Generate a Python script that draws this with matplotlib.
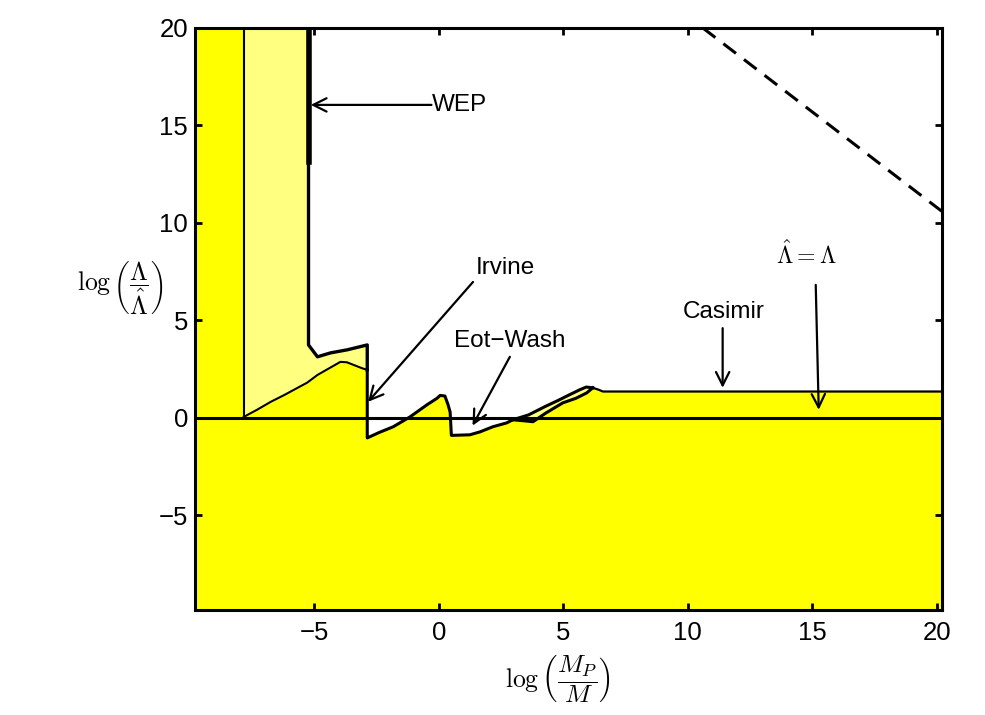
import numpy as np
import matplotlib
matplotlib.use("Agg")
import matplotlib.pyplot as plt

plt.rcParams['mathtext.fontset'] = 'cm'
plt.rcParams['font.family'] = ['Liberation Sans', 'DejaVu Sans']

# ---- data ----
x_ticks = [-5, 0, 5, 10, 15, 20]
y_ticks = [-5, 0, 5, 10, 15, 20]
x_lim = (-9.8, 20.2)
y_lim = (-9.85, 20.0)

# left excluded block
left_x = [-9.8, -7.84]
left_y = [20.0, 20.0]

# lower envelope (bright yellow below), in segments
lower_a_x = [-7.84, -7.3, -6.76, -6.2, -5.68, -5.3, -4.88, -4.4, -3.96, -3.7, -3.44, -3.1, -2.88]
lower_a_y = [0.05, 0.42, 0.82, 1.18, 1.54, 1.8, 2.2, 2.55, 2.87, 2.85, 2.72, 2.55, 2.46]
lower_b_x = [-2.88, -2.4, -1.84, -1.16, -0.48, -0.08, 0.05, 0.24, 0.36, 0.45, 0.5, 1.24, 1.65, 2.16, 2.72]
lower_b_y = [-1.03, -0.75, -0.46, 0.05, 0.67, 1.0, 1.15, 1.12, 0.7, 0.3, -0.9, -0.87, -0.72, -0.46, -0.26]
lower_c_x = [2.97, 3.4, 3.78, 4.3, 4.98, 5.5, 5.94, 6.18]
lower_c_y = [-0.1, -0.15, -0.2, 0.25, 0.77, 1.0, 1.28, 1.54]
lower_d_x = [6.4, 6.59, 20.2]
lower_d_y = [1.45, 1.35, 1.35]

# WEP upper bound
wep_x = [-7.84, -5.24, -5.24, -4.88, -4.36, -3.68, -3.04, -2.88, -2.88]
wep_y = [20.0, 20.0, 3.74, 3.13, 3.33, 3.49, 3.69, 3.74, 2.46]
wep_thick_y = [13.1, 20.0]

# sliver upper bound
sliver_x = [2.97, 3.6, 4.3, 4.8, 5.24, 5.66, 5.92, 6.18]
sliver_y = [-0.1, 0.15, 0.6, 0.9, 1.18, 1.44, 1.58, 1.54]

# dashed line (Lambda-hat = Lambda bound)
dash_x = [10.6, 20.2]
dash_y = [20.0, 10.6]

# annotations: label, text pos, arrow start, arrow tip
labels = ["WEP", "Irvine", "Eot\u2212Wash", "Casimir", r"$\hat{\Lambda}=\Lambda$"]
text_pos = [(-0.28, 16.05), (2.65, 7.69), (2.85, 3.95), (11.45, 5.44), (14.78, 8.36)]
arrow_from = [(-0.3, 16.05), (1.37, 6.97), (2.85, 3.13), (11.4, 4.6), (15.14, 6.82)]
arrow_to = [(-5.15, 16.05), (-2.85, 0.82), (1.35, -0.4), (11.4, 1.54), (15.26, 0.41)]

BRIGHT = '#FFFF00'
LIGHT = '#FFFF80'

fig = plt.figure(figsize=(9.85, 7.15), dpi=100)
ax = fig.add_axes([0.198, 0.147, 0.758, 0.814])

lower_x = np.concatenate([left_x, lower_a_x, lower_b_x, lower_c_x, lower_d_x])
lower_y = np.concatenate([left_y, lower_a_y, lower_b_y, lower_c_y, lower_d_y])

ax.fill_between(lower_x, y_lim[0], lower_y, color=BRIGHT, lw=0, zorder=1)

wep_poly_x = np.concatenate([wep_x, lower_a_x[::-1]])
wep_poly_y = np.concatenate([wep_y, lower_a_y[::-1]])
ax.fill(wep_poly_x, wep_poly_y, color=LIGHT, lw=0, zorder=1)

sl_poly_x = np.concatenate([sliver_x, lower_c_x[::-1]])
sl_poly_y = np.concatenate([sliver_y, lower_c_y[::-1]])
ax.fill(sl_poly_x, sl_poly_y, color=LIGHT, lw=0, zorder=1)

# outlines
ax.plot(lower_a_x, lower_a_y, color='k', lw=1.5, zorder=3)
mid_x = np.concatenate([[lower_a_x[-1]], lower_b_x, lower_c_x])
mid_y = np.concatenate([[lower_a_y[-1]], lower_b_y, lower_c_y])
ax.plot(mid_x, mid_y, color='k', lw=2.2, zorder=3, solid_joinstyle='round')
ax.plot(np.concatenate([[lower_c_x[-1]], lower_d_x]),
        np.concatenate([[lower_c_y[-1]], lower_d_y]), color='k', lw=1.6, zorder=3)
ax.plot([wep_x[0], wep_x[0]], [lower_a_y[0], wep_y[0]], color='k', lw=1.5, zorder=3)
ax.plot(wep_x[1:], wep_y[1:], color='k', lw=2.4, zorder=3, solid_joinstyle='round')
ax.plot([wep_x[1], wep_x[1]], wep_thick_y, color='k', lw=4, zorder=3)
ax.plot(sliver_x, sliver_y, color='k', lw=2.2, zorder=3, solid_joinstyle='round')

ax.axhline(0, color='k', lw=2.2, zorder=4)

ax.plot(dash_x, dash_y, color='k', lw=2.2, linestyle=(0, (5.2, 3.3)), zorder=3)

for i, (lab, tp, af, at) in enumerate(zip(labels, text_pos, arrow_from, arrow_to)):
    if i == 0:
        ax.text(tp[0], tp[1], lab, fontsize=17.5, ha='left', va='center', zorder=5)
    elif lab.startswith('$'):
        ax.text(tp[0], tp[1], lab, fontsize=17, ha='center', va='center', zorder=5)
    else:
        ax.text(tp[0], tp[1], lab, fontsize=17.5, ha='center', va='center', zorder=5)
    ax.annotate('', xy=at, xytext=af,
                arrowprops=dict(arrowstyle='->', color='k', lw=1.6,
                                mutation_scale=24, shrinkA=0, shrinkB=0),
                zorder=5)

ax.set_xlim(*x_lim)
ax.set_ylim(*y_lim)
ax.set_xticks(x_ticks)
ax.set_yticks(y_ticks)
ax.tick_params(direction='in', length=5, width=2, top=True, right=True,
               labelsize=18.5)
ax.tick_params(axis='x', pad=8)
ax.tick_params(axis='y', pad=5)
for s in ax.spines.values():
    s.set_linewidth(2.2)
    s.set_zorder(6)

ax.set_xlabel(r'$\log\left(\dfrac{M_P}{M}\right)$', fontsize=18.5)
ax.xaxis.set_label_coords(0.486, -0.12)
ax.set_ylabel(r'$\log\left(\dfrac{\Lambda}{\hat{\Lambda}}\right)$', fontsize=18.5,
              rotation=0, ha='center', va='center')
ax.yaxis.set_label_coords(-0.1, 0.553)
ax.xaxis.label.set_va('center')

fig.savefig('out.png', dpi=100)
